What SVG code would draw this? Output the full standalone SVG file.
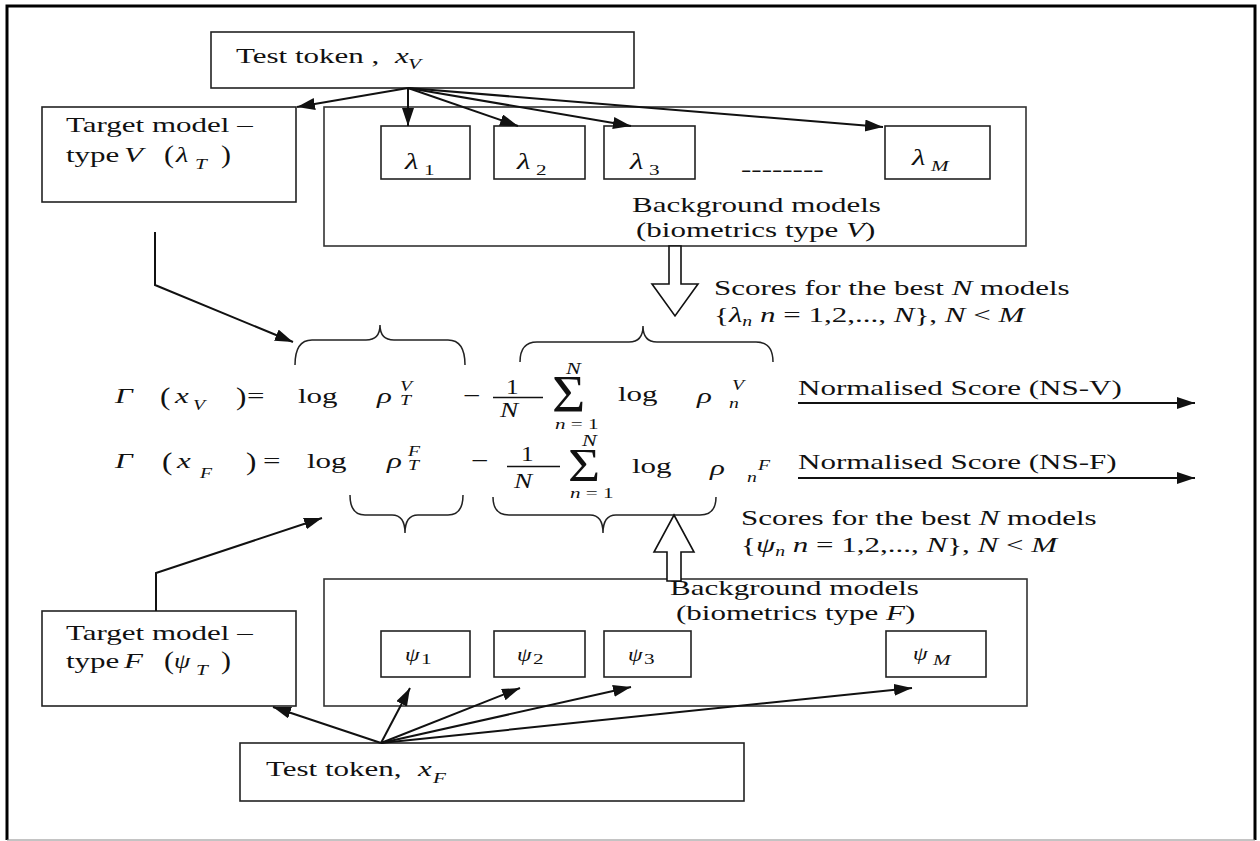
<svg xmlns="http://www.w3.org/2000/svg" width="1260" height="841" viewBox="0 0 1260 841">
<style>
text{font-family:"Liberation Serif","Times New Roman",serif;font-size:22px;fill:#111}
.i{font-style:italic}
.s{font-size:14px}
.m{font-size:15px}
.box{fill:#fff;stroke:#222;stroke-width:1.6}
.bg{fill:none;stroke:#333;stroke-width:1.6}
.con{fill:none;stroke:#111;stroke-width:2}
.arr{marker-end:url(#ah)}
.brace{fill:none;stroke:#222;stroke-width:1.5}
.hollow{fill:#fff;stroke:#111;stroke-width:1.6}
</style>
<defs>
<marker id="ah" markerUnits="userSpaceOnUse" markerWidth="20" markerHeight="14" refX="18" refY="6" orient="auto">
<path d="M0,0 L18,6 L0,12 z" fill="#111"/>
</marker>
</defs>
<rect width="1260" height="841" fill="#fff"/>
<path d="M7,840 V6 H1255 V840" fill="none" stroke="#000" stroke-width="3"/>
<path d="M7,840 H1255" stroke="#888" stroke-width="1"/>

<g id="background-v">
<rect class="bg" x="324" y="107" width="702" height="139"/>
<text transform="matrix(1.41 0 0 1 632 212)">Background models</text>
<text transform="matrix(1.41 0 0 1 636 237)">(biometrics type <tspan class="i">V</tspan>)</text>
<text transform="matrix(1.41 0 0 1 741 176)">--------</text>
</g>
<g id="lambda-1"><rect class="box" x="381" y="126" width="89" height="53"/>
<text class="i" style="font-size:24px" transform="matrix(1.3 0 0 1 405 169)">λ</text><text class="m" transform="matrix(1.41 0 0 1 424 175)">1</text></g>
<g id="lambda-2"><rect class="box" x="494" y="126" width="91" height="53"/>
<text class="i" style="font-size:24px" transform="matrix(1.3 0 0 1 517 169)">λ</text><text class="m" transform="matrix(1.41 0 0 1 536 175)">2</text></g>
<g id="lambda-3"><rect class="box" x="604" y="126" width="91" height="53"/>
<text class="i" style="font-size:24px" transform="matrix(1.3 0 0 1 630 169)">λ</text><text class="m" transform="matrix(1.41 0 0 1 649 175)">3</text></g>
<g id="lambda-m"><rect class="box" x="885" y="126" width="105" height="53"/>
<text class="i" style="font-size:24px" transform="matrix(1.3 0 0 1 912 165)">λ</text><text class="m i" transform="matrix(1.41 0 0 1 931 171)">M</text></g>

<g id="test-token-v"><rect class="box" x="211" y="32" width="423" height="56"/>
<text transform="matrix(1.41 0 0 1 236 63)">Test token ,</text>
<text class="i" transform="matrix(1.41 0 0 1 395 63)">x</text><text class="i m" transform="matrix(1.41 0 0 1 408 69)">V</text></g>

<g id="target-v"><rect class="box" x="42" y="107" width="254" height="95"/>
<text transform="matrix(1.41 0 0 1 66 132)">Target model –</text>
<text transform="matrix(1.41 0 0 1 66 162)">type</text>
<text class="i" transform="matrix(1.41 0 0 1 124 162)">V</text>
<text style="font-size:25px" transform="matrix(1.2 0 0 1 164 163)">(</text>
<text class="i" transform="matrix(1.3 0 0 1 176 162)">λ</text>
<text class="i m" transform="matrix(1.41 0 0 1 195 169)">T</text>
<text style="font-size:25px" transform="matrix(1.2 0 0 1 221 163)">)</text></g>

<g id="background-f">
<rect class="bg" x="324" y="579" width="703" height="127"/>
<text transform="matrix(1.41 0 0 1 670 595)">Background models</text>
<text transform="matrix(1.41 0 0 1 676 620)">(biometrics type <tspan class="i">F</tspan>)</text>
</g>
<g id="psi-1"><rect class="box" x="381" y="631" width="89" height="46"/>
<text class="i" style="font-size:18px" transform="matrix(1.3 0 0 1 405 661)">ψ</text><text class="m" transform="matrix(1.41 0 0 1 421 664)">1</text></g>
<g id="psi-2"><rect class="box" x="494" y="631" width="91" height="46"/>
<text class="i" style="font-size:18px" transform="matrix(1.3 0 0 1 517 661)">ψ</text><text class="m" transform="matrix(1.41 0 0 1 533 664)">2</text></g>
<g id="psi-3"><rect class="box" x="604" y="631" width="87" height="46"/>
<text class="i" style="font-size:18px" transform="matrix(1.3 0 0 1 628 661)">ψ</text><text class="m" transform="matrix(1.41 0 0 1 644 664)">3</text></g>
<g id="psi-m"><rect class="box" x="886" y="631" width="100" height="46"/>
<text class="i" style="font-size:18px" transform="matrix(1.3 0 0 1 913 660)">ψ</text><text class="m i" transform="matrix(1.41 0 0 1 933 665)">M</text></g>

<g id="target-f"><rect class="box" x="42" y="611" width="254" height="95"/>
<text transform="matrix(1.41 0 0 1 66 640)">Target model –</text>
<text transform="matrix(1.41 0 0 1 66 668)">type</text>
<text class="i" transform="matrix(1.41 0 0 1 124 668)">F</text>
<text style="font-size:25px" transform="matrix(1.2 0 0 1 164 669)">(</text>
<text class="i" style="font-size:20px" transform="matrix(1.3 0 0 1 174 668)">ψ</text>
<text class="i m" transform="matrix(1.41 0 0 1 196 675)">T</text>
<text style="font-size:25px" transform="matrix(1.2 0 0 1 221 669)">)</text></g>

<g id="test-token-f"><rect class="box" x="240" y="743" width="504" height="58"/>
<text transform="matrix(1.41 0 0 1 266 776)">Test token,</text>
<text class="i" transform="matrix(1.41 0 0 1 418 776)">x</text><text class="i m" transform="matrix(1.41 0 0 1 433 783)">F</text></g>

<g id="equation-v">
<text class="i" transform="matrix(1.41 0 0 1 115 403)">Γ</text>
<text style="font-size:26px" transform="matrix(1.2 0 0 1 160 405)">(</text>
<text class="i" transform="matrix(1.41 0 0 1 175 403)">x</text>
<text class="i s" transform="matrix(1.41 0 0 1 193 410)">V</text>
<text style="font-size:26px" transform="matrix(1.2 0 0 1 236 405)">)</text>
<text transform="matrix(1.41 0 0 1 247 403)">=</text>
<text transform="matrix(1.41 0 0 1 298 403)">log</text>
<text class="i" transform="matrix(1.41 0 0 1 377 403)">ρ</text>
<text class="i s" transform="matrix(1.41 0 0 1 400 391)">V</text>
<text class="i s" transform="matrix(1.41 0 0 1 400 405)">T</text>
<text transform="matrix(1.41 0 0 1 463 403)">−</text>
<text style="font-size:21px" transform="matrix(1.2 0 0 1 506 394)">1</text>
<path d="M493,397.5 H543" stroke="#111" stroke-width="1.4"/>
<text class="i" style="font-size:21px" transform="matrix(1.3 0 0 1 500 417)">N</text>
<text style="font-size:52px" transform="matrix(1.1 0 0 1 552 412)">Σ</text>
<text class="i" style="font-size:17px" transform="matrix(1.3 0 0 1 566 374)">N</text>
<text class="m" transform="matrix(1.41 0 0 1 555 429)"><tspan class="i">n</tspan> = 1</text>
<text transform="matrix(1.41 0 0 1 618 401)">log</text>
<text class="i" transform="matrix(1.41 0 0 1 697 403)">ρ</text>
<text class="i s" transform="matrix(1.41 0 0 1 732 390)">V</text>
<text class="i s" transform="matrix(1.41 0 0 1 729 408)">n</text>
</g>

<g id="equation-f">
<text class="i" transform="matrix(1.41 0 0 1 115 468)">Γ</text>
<text style="font-size:26px" transform="matrix(1.2 0 0 1 162 470)">(</text>
<text class="i" transform="matrix(1.41 0 0 1 177 468)">x</text>
<text class="i s" transform="matrix(1.41 0 0 1 200 478)">F</text>
<text style="font-size:26px" transform="matrix(1.2 0 0 1 246 470)">)</text>
<text transform="matrix(1.41 0 0 1 263 468)">=</text>
<text transform="matrix(1.41 0 0 1 307 468)">log</text>
<text class="i" transform="matrix(1.41 0 0 1 387 468)">ρ</text>
<text class="i s" transform="matrix(1.41 0 0 1 408 456)">F</text>
<text class="i s" transform="matrix(1.41 0 0 1 408 470)">T</text>
<text transform="matrix(1.41 0 0 1 471 468)">−</text>
<text style="font-size:21px" transform="matrix(1.2 0 0 1 521 461)">1</text>
<path d="M507,466.5 H560" stroke="#111" stroke-width="1.4"/>
<text class="i" style="font-size:21px" transform="matrix(1.3 0 0 1 514 488)">N</text>
<text style="font-size:46px" transform="matrix(1.2 0 0 1 568 481)">Σ</text>
<text class="i" style="font-size:17px" transform="matrix(1.3 0 0 1 582 446)">N</text>
<text class="m" transform="matrix(1.41 0 0 1 570 498)"><tspan class="i">n</tspan> = 1</text>
<text transform="matrix(1.41 0 0 1 632 473)">log</text>
<text class="i" transform="matrix(1.41 0 0 1 710 475)">ρ</text>
<text class="i s" transform="matrix(1.41 0 0 1 758 470)">F</text>
<text class="i s" transform="matrix(1.41 0 0 1 747 482)">n</text>
</g>

<g id="scores-v">
<text transform="matrix(1.41 0 0 1 714 295)">Scores for the best <tspan class="i">N</tspan> models</text>
<text transform="matrix(1.41 0 0 1 714 322)">{<tspan class="i">λ</tspan><tspan class="i" font-size="14" dy="4">n</tspan><tspan dy="-4"> </tspan><tspan class="i">n</tspan> = 1,2,..., <tspan class="i">N</tspan>}, <tspan class="i">N</tspan> &lt; <tspan class="i">M</tspan></text>
</g>
<g id="scores-f">
<text transform="matrix(1.41 0 0 1 741 525)">Scores for the best <tspan class="i">N</tspan> models</text>
<text transform="matrix(1.41 0 0 1 741 552)">{<tspan class="i">ψ</tspan><tspan class="i" font-size="14" dy="4">n</tspan><tspan dy="-4"> </tspan><tspan class="i">n</tspan> = 1,2,..., <tspan class="i">N</tspan>}, <tspan class="i">N</tspan> &lt; <tspan class="i">M</tspan></text>
</g>
<g id="ns-v"><text transform="matrix(1.41 0 0 1 798 395)">Normalised Score (NS-V)</text></g>
<g id="ns-f"><text transform="matrix(1.41 0 0 1 798 469)">Normalised Score (NS-F)</text></g>

<g id="connectors">
<path class="con arr" d="M408,88 L297,107"/>
<path class="con arr" d="M408,88 L408,126"/>
<path class="con arr" d="M408,88 L518,126"/>
<path class="con arr" d="M408,88 L631,126"/>
<path class="con arr" d="M408,88 L883,127"/>
<path class="con arr" d="M155,232 L155,285 L293,342"/>
<path class="con arr" d="M156,611 L156,573 L322,518"/>
<path class="con arr" d="M381,743 L273,707"/>
<path class="con arr" d="M381,743 L410,688"/>
<path class="con arr" d="M381,743 L520,688"/>
<path class="con arr" d="M381,743 L631,687"/>
<path class="con arr" d="M381,743 L912,688"/>
<path class="con arr" d="M798,403 L1195,403"/>
<path class="con arr" d="M798,478 L1195,478"/>
<path class="brace" d="M295,365 Q295,340 312,340 L366,340 Q380,340 380,325 Q380,340 394,340 L448,340 Q465,340 465,365"/>
<path class="brace" d="M520,362 Q520,342 537,342 L629,342 Q643,342 643,326 Q643,342 657,342 L756,342 Q773,342 773,362"/>
<path class="brace" d="M350,495 Q350,515 365,515 L392,515 Q405,515 405,533 Q405,515 418,515 L448,515 Q463,515 463,495"/>
<path class="brace" d="M493,497 Q493,515 509,515 L590,515 Q603,515 603,533 Q603,515 616,515 L700,515 Q716,515 716,497"/>
<polygon class="hollow" points="669,246 681,246 681,284 698,284 675,316 652,284 669,284"/>
<polygon class="hollow" points="674,515 694,552 681,552 681,581 667,581 667,552 654,552"/>
</g>
</svg>
